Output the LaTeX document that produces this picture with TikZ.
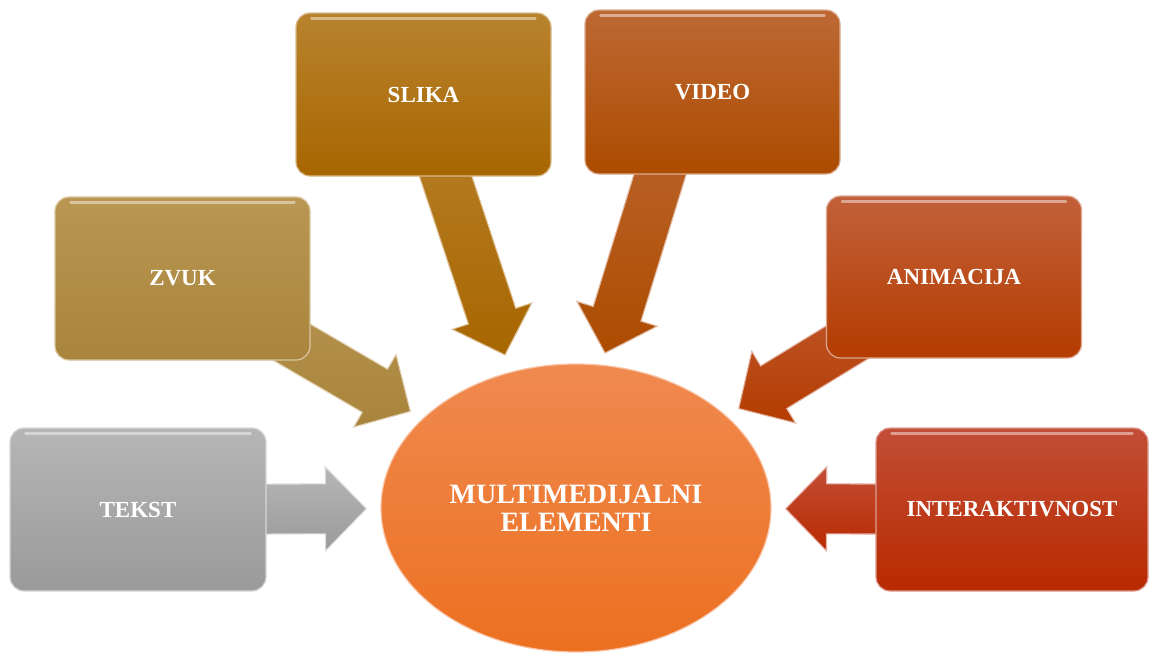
\documentclass[tikz,border=0pt]{standalone}
\usepackage{fontspec}
\setmainfont{Liberation Serif}
\usetikzlibrary{shapes.geometric,calc,backgrounds}
\definecolor{tekT}{HTML}{B6B6B6}\definecolor{tekB}{HTML}{9A9A9A}
\definecolor{zvuT}{HTML}{BA9752}\definecolor{zvuB}{HTML}{A8843C}
\definecolor{sliT}{HTML}{B8832E}\definecolor{sliB}{HTML}{A86600}
\definecolor{vidT}{HTML}{BD6834}\definecolor{vidB}{HTML}{AD4C00}
\definecolor{aniT}{HTML}{C2603A}\definecolor{aniB}{HTML}{B43C00}
\definecolor{intT}{HTML}{C24E36}\definecolor{intB}{HTML}{B82A00}
\definecolor{ellT}{HTML}{F08A50}\definecolor{ellB}{HTML}{EC7020}
\tikzset{
  box/.style 2 args={rectangle, rounded corners=14pt, minimum width=255pt,
    minimum height=163pt, inner sep=0pt, text=white,
    font=\bfseries\fontsize{23}{27}\selectfont,
    top color=#1, bottom color=#2, draw=#1!55!white, line width=1.2pt},
  ell/.style={ellipse, minimum width=390pt, minimum height=288pt, inner sep=0pt,
    top color=ellT, bottom color=ellB, draw=ellT!50!white, line width=1.2pt,
    text=white, align=center, font=\bfseries\fontsize{28}{28}\selectfont},
  arrowstyle/.style 2 args={top color=#1, bottom color=#2, draw=#1!45!white,
    line width=1.1pt, line join=miter},
  shine/.style={white, opacity=0.45, line width=2.2pt, line cap=round}
}
% tip of an arrow from box #1 aimed at the centre of ellipse #2
\newcommand\aimtip[2]{%
  \path (#2) -- (#1.center) coordinate[pos=0] (e-#1);
  \coordinate (t-#1) at ($(e-#1)!14pt!(#1.center)$);
  \coordinate (s-#1) at (#1.center);
}
% block arrow from coordinate s-#1 to coordinate t-#1
\newcommand\blockarrow[3]{%
  \coordinate (h-#1) at ($(t-#1)!41pt!(s-#1)$);
  \draw[arrowstyle={#2}{#3}] (t-#1)
    -- ($(h-#1)!42pt!90:(s-#1)$)
    -- ($(h-#1)!25pt!90:(s-#1)$)
    -- ($(s-#1)!25pt!-90:(t-#1)$)
    -- ($(s-#1)!25pt!90:(t-#1)$)
    -- ($(h-#1)!25pt!-90:(s-#1)$)
    -- ($(h-#1)!42pt!-90:(s-#1)$)
    -- cycle;
}
\newcommand\boxshine[1]{%
  \draw[shine] ($(#1.north west)+(16,6)$) -- ($(#1.north east)+(-16,6)$);
}
\begin{document}
\begin{tikzpicture}[x=1pt,y=-1pt]
\useasboundingbox (0,0) rectangle (1150,653);
\node[box={tekT}{tekB}, minimum width=256pt] (tekst) at (138,509.5) {TEKST};
\node[box={zvuT}{zvuB}] (zvuk) at (182.5,278.5) {ZVUK};
\node[box={sliT}{sliB}] (slika) at (423.5,94.5) {SLIKA};
\node[box={vidT}{vidB}, minimum height=164pt] (video) at (712.5,92) {VIDEO};
\node[box={aniT}{aniB}, minimum height=162pt] (anim) at (954,277) {ANIMACIJA};
\node[box={intT}{intB}, minimum width=272pt] (inter) at (1012,509.5) {INTERAKTIVNOST};
\node[ell] (ell) at (576,508) {MULTIMEDIJALNI\\ELEMENTI};
\foreach \b in {tekst,zvuk,slika,video,anim,inter} {\boxshine{\b}}
\aimtip{tekst}{ell}
\aimtip{zvuk}{ell}
\aimtip{anim}{ell}
\aimtip{inter}{ell}
\coordinate (s-slika) at ($(slika.center)+(-5,0)$);
\coordinate (t-slika) at (505,355);
\coordinate (s-video) at ($(video.center)+(-27,0)$);
\coordinate (t-video) at (605,353);
\begin{scope}[on background layer]
  \blockarrow{tekst}{tekT}{tekB}
  \blockarrow{zvuk}{zvuT}{zvuB}
  \blockarrow{slika}{sliT}{sliB}
  \blockarrow{video}{vidT}{vidB}
  \blockarrow{anim}{aniT}{aniB}
  \blockarrow{inter}{intT}{intB}
\end{scope}
\end{tikzpicture}
\end{document}
